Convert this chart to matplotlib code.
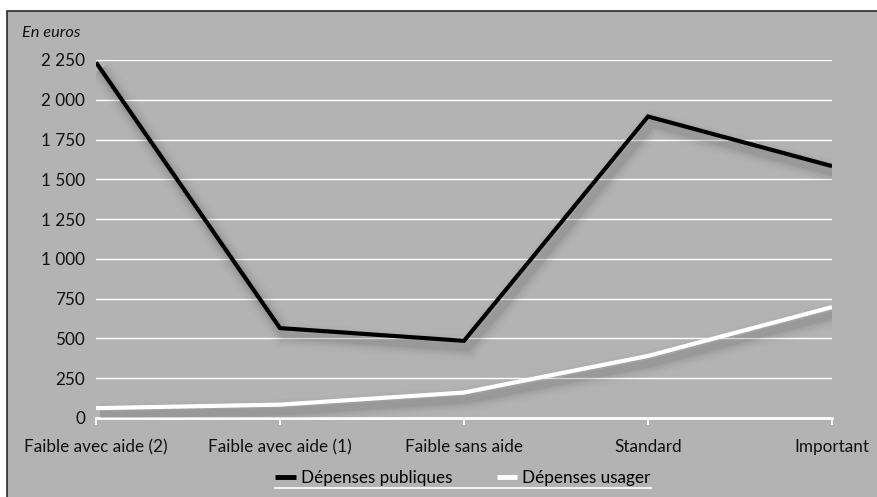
import numpy as np
import matplotlib.pyplot as plt
import matplotlib.patheffects as pe
from matplotlib.patches import Rectangle
from matplotlib.lines import Line2D
from matplotlib.ticker import FuncFormatter

plt.rcParams['font.family'] = ['Lato', 'DejaVu Sans']

# Données
categories = ["Faible avec aide (2)", "Faible avec aide (1)", "Faible sans aide",
              "Standard", "Important"]
depenses_publiques = [2235, 565, 485, 1895, 1583]
depenses_usager = [62, 84, 160, 390, 697]
y_ticks = [0, 250, 500, 750, 1000, 1250, 1500, 1750, 2000, 2250]

FOND = '#b3b3b3'
TAILLE = 12.3

fig = plt.figure(figsize=(8.78, 4.97), dpi=100)
fig.patch.set_facecolor('white')

# cadre gris (bords bas et droit coupés)
W, H = 878, 497
fig.patches.append(Rectangle((7 / W, -0.1), 1.2, 1.1 - 11 / H, transform=fig.transFigure,
                             facecolor=FOND, edgecolor='#2a2a2a', linewidth=1.2,
                             zorder=-10))

ax = fig.add_axes([96 / W, 1 - 418 / H, (832 - 96) / W, (418 - 60) / H])
ax.set_facecolor('none')
x = np.arange(len(categories))


def ombre():
    effets = []
    for lw, a in [(18, 0.025), (14, 0.03), (11, 0.04), (8, 0.05), (5.5, 0.07)]:
        effets.append(pe.SimpleLineShadow(offset=(3, -5), shadow_color='#3a3a3a',
                                          alpha=a, linewidth=lw))
    effets.append(pe.Normal())
    return effets


ax.plot(x, depenses_publiques, color='black', linewidth=3.0, solid_joinstyle='miter',
        label='Dépenses publiques', zorder=4, path_effects=ombre(),
        solid_capstyle='butt')
ax.plot(x, depenses_usager, color='white', linewidth=3.0, label='Dépenses usager',
        zorder=3, path_effects=ombre(), solid_capstyle='butt')

ax.set_xlim(0, 4)
ax.set_ylim(0, 2250)
ax.set_yticks(y_ticks)
ax.yaxis.set_major_formatter(FuncFormatter(lambda v, p: f"{int(v):,}".replace(",", " ")))
ax.set_xticks(x)
ax.set_xticklabels(categories)

for y in y_ticks[1:]:
    ax.axhline(y, color='white', linewidth=1.0, zorder=1)

for s in ['top', 'right', 'left']:
    ax.spines[s].set_visible(False)
ax.spines['bottom'].set_color('white')
ax.spines['bottom'].set_linewidth(2)
ax.spines['bottom'].set_zorder(2)

ax.tick_params(axis='y', length=0, pad=8, labelsize=TAILLE, labelcolor='#111111')
ax.tick_params(axis='x', length=5, width=1.2, color='white', pad=10, labelsize=TAILLE,
               labelcolor='#111111')

fig.text(22 / W, 1 - 33 / H, "En euros", style='italic', fontsize=TAILLE - 0.5,
         va='center', ha='left', color='#111111')

leg = fig.legend(loc='center', bbox_to_anchor=(463 / W, 1 - 478 / H), ncol=2,
                 frameon=False, fontsize=TAILLE, handlelength=1.2, handletextpad=0.3,
                 columnspacing=2.6, borderaxespad=0, borderpad=0)
for h in leg.legend_handles:
    h.set_linewidth(3.5)
    h.set_path_effects([])

# trait blanc sous la légende
fig.canvas.draw()
bb = leg.get_window_extent().transformed(fig.transFigure.inverted())
fig.add_artist(Line2D([bb.x0, bb.x1], [bb.y0 - 2 / H, bb.y0 - 2 / H],
                      transform=fig.transFigure, color='white', linewidth=1.2))

fig.savefig('out.png', dpi=100, facecolor=fig.get_facecolor())
